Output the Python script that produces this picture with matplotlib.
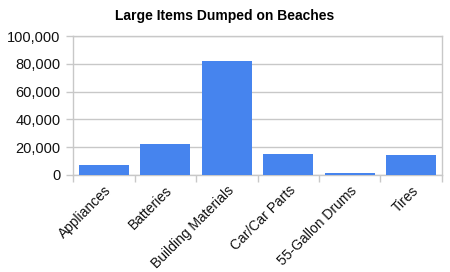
import matplotlib.pyplot as plt
import numpy as np
from matplotlib.ticker import FuncFormatter, FixedLocator

plt.rcParams["font.family"] = ["Liberation Sans", "DejaVu Sans"]

categories = ["Appliances", "Batteries", "Building Materials", "Car/Car Parts",
              "55-Gallon Drums", "Tires"]
counts = [7300, 22400, 82000, 15200, 1500, 14500]
yticks = [0, 20000, 40000, 60000, 80000, 100000]

grey = "#c8c8c8"

fig = plt.figure(figsize=(4.5, 2.72), dpi=100)
ax = fig.add_axes([73 / 450, 1 - 175 / 272, 369 / 450, 139 / 272])

x = np.arange(len(categories))
ax.bar(x, counts, width=0.81, color="#4684ee", zorder=3)

ax.set_xlim(-0.5, len(categories) - 0.5)
ax.set_ylim(0, 100000)
ax.set_yticks(yticks)
ax.yaxis.set_major_formatter(FuncFormatter(lambda v, p: f"{int(v):,}"))
ax.grid(axis="y", color=grey, lw=1, zorder=0)

# category labels at centres, tick marks at boundaries
ax.set_xticks(x)
ax.set_xticklabels(categories, rotation=45, ha="right", rotation_mode="anchor")
ax.xaxis.set_minor_locator(FixedLocator(np.arange(-0.5, len(categories), 1)))
ax.tick_params(axis="x", which="major", length=0, pad=6, labelsize=10, labelcolor="#111111")
ax.tick_params(axis="x", which="minor", length=5, color=grey, width=1)
ax.tick_params(axis="y", length=5, color=grey, width=1, pad=4, labelsize=10.5, labelcolor="#111111")

for s in ax.spines.values():
    s.set_color(grey)
    s.set_linewidth(1)

fig.text(0.5, 1 - 16 / 272, "Large Items Dumped on Beaches", ha="center", va="center",
         fontsize=10, fontweight="bold")

fig.savefig("out.png", dpi=100)
